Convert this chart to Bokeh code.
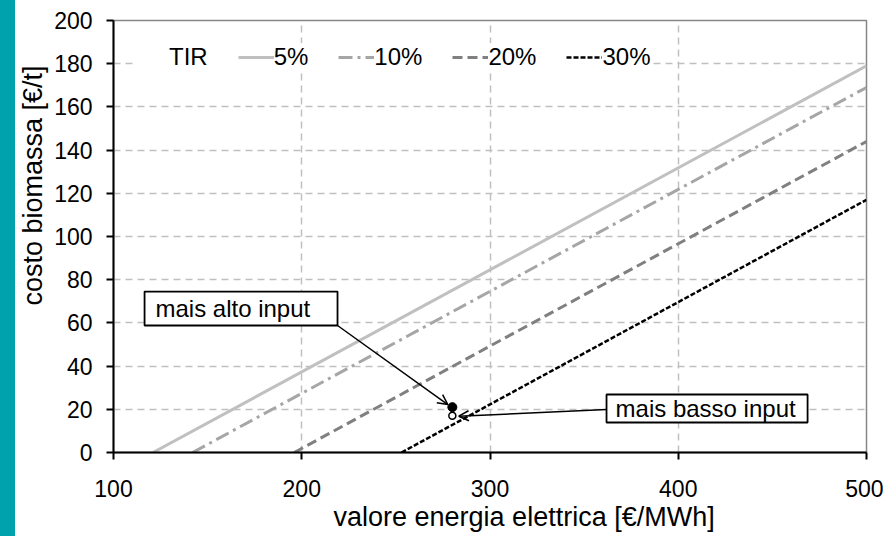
from bokeh.plotting import figure
from bokeh.layouts import row
from bokeh.models import (Range1d, Legend, LegendItem, Label, Arrow, OpenHead,
                          BoxAnnotation, FixedTicker, Title, Div)
from bokeh.embed import file_html
from bokeh.resources import INLINE

# ---- data ----
x_energy_max = 500
series_names = ["5%", "10%", "20%", "30%"]
x_start = [121, 142, 196, 253]      # energy value where biomass cost = 0
y_end = [179, 169, 144, 117]        # biomass cost at 500 €/MWh

point_x = [280, 280]
point_y = [21, 17]

x_ticks = [100, 200, 300, 400, 500]
y_ticks = [0, 20, 40, 60, 80, 100, 120, 140, 160, 180, 200]

FONT = "Liberation Sans"

p = figure(width=868, height=536, output_backend="svg", toolbar_location=None,
           x_range=Range1d(100, 500), y_range=Range1d(0, 200),
           min_border_left=98, min_border_right=17, min_border_top=20,
           min_border_bottom=84)
p.outline_line_color = "#868686"
p.outline_line_width = 1.5

for ax, ticks in ((p.xaxis, x_ticks), (p.yaxis, y_ticks)):
    ax.ticker = FixedTicker(ticks=ticks)
    ax.axis_line_color = "black"
    ax.axis_line_width = 2
    ax.major_tick_line_color = "black"
    ax.major_tick_line_width = 2
    ax.major_tick_out = 7
    ax.major_tick_in = 0
    ax.minor_tick_line_color = None
    ax.major_label_text_font = FONT
    ax.major_label_text_font_size = "23px"
    ax.major_label_text_color = "black"
p.xaxis.major_label_standoff = 20
p.yaxis.major_label_standoff = 14

for g in (p.xgrid, p.ygrid):
    g.grid_line_color = "#c0c0c0"
    g.grid_line_width = 1.5
    g.grid_line_dash = "7 5"
p.xgrid.ticker = FixedTicker(ticks=x_ticks)
p.ygrid.ticker = FixedTicker(ticks=y_ticks)

colors = ["#c0c0c0", "#a6a6a6", "#808080", "#000000"]
dashes = ["solid", "14 5 3 5", "10 5", "5 2"]
widths = [3, 3, 3, 2.5]

renderers = []
for xs, ye, c, d, w in zip(x_start, y_end, colors, dashes, widths):
    r = p.line([xs, x_energy_max], [0, ye], line_color=c, line_dash=d, line_width=w)
    renderers.append(r)

blank = p.line([], [], line_alpha=0)

# points
p.scatter([point_x[0]], [point_y[0]], size=9, marker="circle", fill_color="black",
          line_color="black")
p.scatter([point_x[1]], [point_y[1]], size=7, marker="circle", fill_color="white",
          line_color="black", line_width=1.5)

# legend
items = [LegendItem(label="TIR", renderers=[blank])]
items += [LegendItem(label=n, renderers=[r]) for n, r in zip(series_names, renderers)]
legend = Legend(items=items, orientation="horizontal", location=(20, 381),
                label_text_font=FONT, label_text_font_size="24px",
                label_text_color="black",
                glyph_width=36, glyph_height=20, label_standoff=0, spacing=30,
                padding=5, border_line_color=None, background_fill_color="white",
                background_fill_alpha=1)
p.add_layout(legend, "center")

# annotation boxes
p.add_layout(BoxAnnotation(left=116.5, right=219, bottom=58.8, top=74.5,
                           fill_color="white", fill_alpha=1, line_color="black",
                           line_alpha=1, line_width=1.8))
p.add_layout(Label(x=122.3, y=66.7, text="mais alto input", text_font=FONT,
                   text_font_size="24px", text_color="black",
                   text_baseline="middle", text_align="left"))
p.add_layout(BoxAnnotation(left=361.9, right=468.7, bottom=13.9, top=26.85,
                           fill_color="white", fill_alpha=1, line_color="black",
                           line_alpha=1, line_width=1.8))
p.add_layout(Label(x=366.7, y=20.4, text="mais basso input", text_font=FONT,
                   text_font_size="24px", text_color="black",
                   text_baseline="middle", text_align="left"))

p.add_layout(Arrow(x_start=219, y_start=58.8, x_end=277.6, y_end=22.2,
                   line_color="black", line_width=1.5,
                   end=OpenHead(size=10, line_color="black", line_width=1.5)))
p.add_layout(Arrow(x_start=361.9, y_start=19.9, x_end=283.4, y_end=16.8,
                   line_color="black", line_width=1.5,
                   end=OpenHead(size=10, line_color="black", line_width=1.5)))

# axis titles
p.add_layout(Title(text="valore energia elettrica [€/MWh]", align="left",
                   offset=220, text_font=FONT, text_font_size="27px",
                   text_color="black", text_font_style="normal", standoff=0),
             "below")
p.add_layout(Title(text="costo biomassa [€/t]", align="left", offset=147,
                   vertical_align="top", text_font=FONT, text_font_size="27px",
                   text_color="black", text_font_style="normal", standoff=3),
             "left")

strip = Div(width=15, height=536, margin=0, styles={"background-color": "#00a3ad"})
layout = row(strip, p, spacing=0)

open("out.html", "w").write(file_html(layout, INLINE))
